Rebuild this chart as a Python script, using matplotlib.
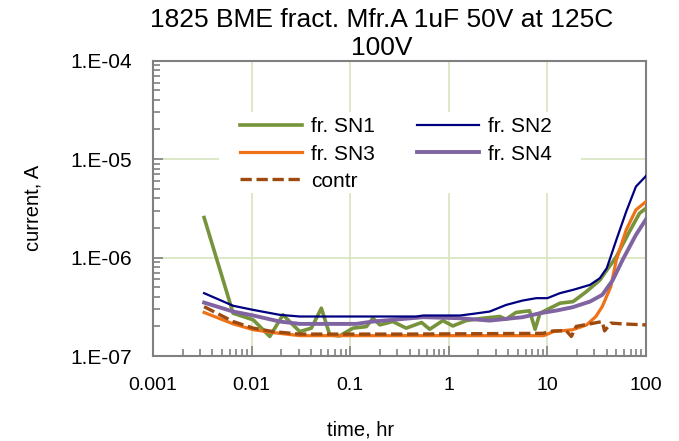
import matplotlib
matplotlib.use("Agg")
import matplotlib.pyplot as plt
from matplotlib.patches import Rectangle
from matplotlib.ticker import FixedLocator, LogLocator, NullFormatter, FixedFormatter

plt.rcParams['font.family'] = ['Liberation Sans', 'DejaVu Sans']

t_sn1 = [0.0033, 0.0065, 0.0104, 0.0153, 0.0208, 0.0308, 0.0404, 0.051, 0.062, 0.078,
         0.107, 0.146, 0.17, 0.2, 0.27, 0.37, 0.53, 0.64, 0.87, 1.1, 1.5, 2.2, 3.3, 3.8,
         4.8, 6.6, 7.5, 8.4, 9.8, 13.4, 18.2, 24.8, 34, 50, 68, 86, 100]
i_sn1 = [2.55e-6, 2.72e-7, 2.33e-7, 1.58e-7, 2.62e-7, 1.77e-7, 1.92e-7, 3.06e-7, 1.64e-7, 1.60e-7,
         1.92e-7, 1.99e-7, 2.42e-7, 2.07e-7, 2.24e-7, 1.92e-7, 2.19e-7, 1.87e-7, 2.29e-7, 2.02e-7,
         2.29e-7, 2.42e-7, 2.52e-7, 2.36e-7, 2.77e-7, 2.88e-7, 1.87e-7, 2.72e-7, 2.94e-7, 3.44e-7,
         3.57e-7, 4.5e-7, 5.9e-7, 1.02e-6, 1.84e-6, 2.82e-6, 3.17e-6]

t_sn2 = [0.0033, 0.0065, 0.0104, 0.0193, 0.0308, 0.1, 0.47, 0.55, 1.3, 1.75, 2.6, 3.8, 5.6,
         7.7, 10, 13.4, 18.2, 27, 34, 40, 50, 63, 79, 100]
i_sn2 = [4.35e-7, 3.24e-7, 2.94e-7, 2.62e-7, 2.52e-7, 2.52e-7, 2.52e-7, 2.58e-7, 2.58e-7, 2.68e-7,
         2.83e-7, 3.3e-7, 3.66e-7, 3.87e-7, 3.87e-7, 4.35e-7, 4.7e-7, 5.28e-7, 6.17e-7, 7.8e-7,
         1.51e-6, 2.93e-6, 5.26e-6, 6.74e-6]

t_sn3 = [0.0033, 0.0065, 0.0104, 0.0165, 0.0308, 0.1, 1, 9.2, 11.5, 18, 25, 31, 36, 44, 50,
         63, 79, 100]
i_sn3 = [2.77e-7, 2.12e-7, 1.85e-7, 1.73e-7, 1.61e-7, 1.61e-7, 1.61e-7, 1.61e-7, 1.77e-7, 1.85e-7,
         2.07e-7, 2.52e-7, 3.18e-7, 5.08e-7, 9.46e-7, 1.91e-6, 3.05e-6, 3.7e-6]

t_sn4 = [0.0033, 0.0065, 0.0104, 0.0193, 0.0308, 0.115, 0.17, 0.55, 1.3, 2.6, 5.6, 8.4, 12.4,
         18, 27, 36, 46, 58, 79, 100]
i_sn4 = [3.49e-7, 2.83e-7, 2.58e-7, 2.24e-7, 2.12e-7, 2.12e-7, 2.24e-7, 2.48e-7, 2.42e-7, 2.29e-7,
         2.48e-7, 2.72e-7, 2.9e-7, 3.13e-7, 3.57e-7, 4.18e-7, 5.9e-7, 9.5e-7, 1.7e-6, 2.45e-6]

t_contr = [0.0033, 0.0065, 0.0104, 0.0165, 0.0308, 0.37, 9.0, 11.5, 15.5, 17.5, 19.6, 27, 36,
           38, 44, 58, 100]
i_contr = [3.17e-7, 2.24e-7, 1.92e-7, 1.77e-7, 1.67e-7, 1.67e-7, 1.70e-7, 1.80e-7, 1.81e-7,
           1.58e-7, 2.0e-7, 2.12e-7, 2.24e-7, 1.8e-7, 2.16e-7, 2.12e-7, 2.07e-7]

x_ticks = [0.001, 0.01, 0.1, 1, 10, 100]
x_labels = ["0.001", "0.01", "0.1", "1", "10", "100"]
y_ticks = [1e-7, 1e-6, 1e-5, 1e-4]
y_labels = ["1.E-07", "1.E-06", "1.E-05", "1.E-04"]

fig = plt.figure(figsize=(6.79, 4.41), dpi=100)
ax = fig.add_axes([0.2253, 0.1927, 0.7261, 0.6697])

l1, = ax.plot(t_sn1, i_sn1, color="#77933C", lw=2.6, label="fr. SN1", zorder=3)
l2, = ax.plot(t_sn2, i_sn2, color="#000080", lw=1.6, label="fr. SN2", zorder=4)
l3, = ax.plot(t_sn3, i_sn3, color="#EE7218", lw=2.3, label="fr. SN3", zorder=3)
l4, = ax.plot(t_sn4, i_sn4, color="#8064A2", lw=2.8, label="fr. SN4", zorder=3)
l5, = ax.plot(t_contr, i_contr, color="#9C4A10", lw=2.4, ls=(0, (3.4, 1.4)), label="contr", zorder=3)

ax.set_xscale("log")
ax.set_yscale("log")
ax.set_xlim(0.001, 100)
ax.set_ylim(1e-7, 1e-4)

ax.xaxis.set_major_locator(FixedLocator(x_ticks))
ax.xaxis.set_major_formatter(FixedFormatter(x_labels))
ax.yaxis.set_major_locator(FixedLocator(y_ticks))
ax.yaxis.set_major_formatter(FixedFormatter(y_labels))
ax.xaxis.set_minor_locator(LogLocator(base=10, subs=range(2, 10), numticks=20))
ax.yaxis.set_minor_locator(LogLocator(base=10, subs=range(2, 10), numticks=20))
ax.xaxis.set_minor_formatter(NullFormatter())
ax.yaxis.set_minor_formatter(NullFormatter())

ax.grid(True, which="major", color="#D7E4BD", lw=1.2)
ax.set_axisbelow(True)
for s in ax.spines.values():
    s.set_color("#808080")
    s.set_linewidth(1.5)
ax.tick_params(which="both", direction="in", color="#808080", pad=15,
               top=False, right=False)
ax.tick_params(axis="x", labelsize=14)
ax.tick_params(axis="y", labelsize=15)
ax.tick_params(which="major", length=7, width=1.2)
ax.tick_params(which="minor", length=5, width=1.2)

ax.set_xlabel("time, hr", fontsize=14.5)
ax.set_ylabel("current, A", fontsize=14.5)
ax.xaxis.set_label_coords(0.422, -0.22)
ax.yaxis.set_label_coords(-0.225, 0.503)
fig.text(0.5626, 1 - 8 / 441, "1825 BME fract. Mfr.A 1uF 50V at 125C\n100V",
         ha="center", va="top", fontsize=19, linespacing=1.22)

# white legend background that hides the grid
ax.add_patch(Rectangle((0.134, 0.552), 0.734, 0.274, transform=ax.transAxes,
                       facecolor="white", edgecolor="none", zorder=1))
ax.legend([l1, l3, l5, l2, l4], ["fr. SN1", "fr. SN3", "contr", "fr. SN2", "fr. SN4"],
          ncol=2, loc="upper left", bbox_to_anchor=(0.1765, 0.808), frameon=False,
          fontsize=15, handlelength=3.0, handletextpad=0.43, columnspacing=2.0,
          labelspacing=0.39, borderpad=0, borderaxespad=0)

fig.savefig("out.png", dpi=100)
